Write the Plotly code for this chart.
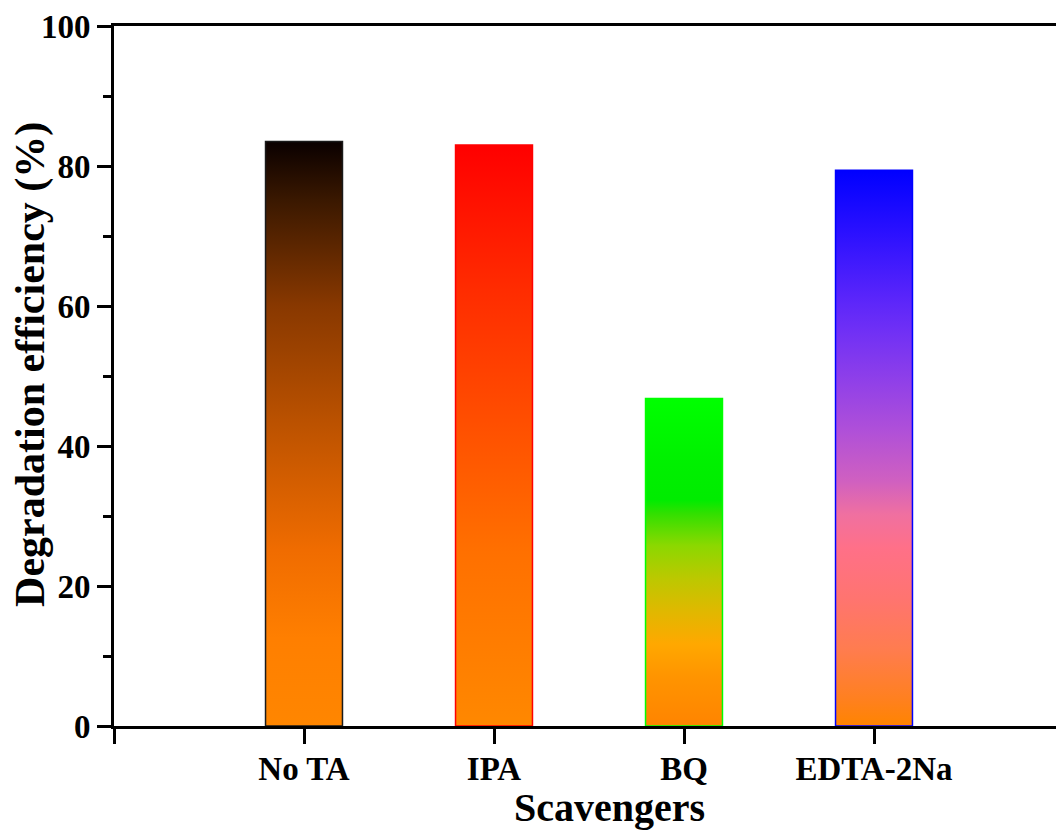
import plotly.graph_objects as go

# Scavenger trapping experiment: degradation efficiency per scavenger
scavengers = ["No TA", "IPA", "BQ", "EDTA-2Na"]
efficiency = [83.5, 83.0, 46.8, 79.4]
positions = [1, 2, 3, 4]

# vertical gradients, 0 = bar bottom, 1 = bar top
gradients = [
    [[0.0, "#ff8600"], [0.15, "#ff7f00"], [0.3, "#f06c00"], [0.5, "#c05400"],
     [0.72, "#883800"], [0.9, "#3a1800"], [1.0, "#0a0000"]],
    [[0.0, "#ff8800"], [0.3, "#ff7000"], [0.5, "#ff5200"], [0.75, "#ff2c00"],
     [1.0, "#ff0000"]],
    [[0.0, "#ff8400"], [0.15, "#ff9400"], [0.25, "#ffa800"], [0.35, "#e0b800"],
     [0.45, "#bcc800"], [0.55, "#8cd800"], [0.65, "#30e000"], [0.69, "#00ec00"],
     [0.8, "#00f000"], [1.0, "#00ff00"]],
    [[0.0, "#ff8400"], [0.05, "#ff8020"], [0.14, "#ff7c50"], [0.23, "#ff7470"],
     [0.32, "#ff7088"], [0.38, "#f070a0"], [0.44, "#d060c0"], [0.53, "#b050d8"],
     [0.62, "#9040e8"], [0.71, "#7030f5"], [0.77, "#5a25fa"], [0.89, "#2a10ff"],
     [1.0, "#0000ff"]],
]
edge_colors = ["#1a1a1a", "#ff0000", "#00ff00", "#0000ff"]
bar_width = 0.405

FONT = "Liberation Serif"

fig = go.Figure()
for pos, val, grad, edge in zip(positions, efficiency, gradients, edge_colors):
    half = bar_width / 2
    fig.add_trace(go.Scatter(
        x=[pos - half, pos - half, pos + half, pos + half, pos - half],
        y=[0, val, val, 0, 0],
        mode="lines",
        fill="toself",
        fillgradient=dict(type="vertical", colorscale=grad, start=0, stop=val),
        line=dict(color=edge, width=1.5),
        showlegend=False,
        hoverinfo="skip",
    ))

fig.update_layout(
    width=1056,
    height=830,
    margin=dict(l=114, r=0, t=26, b=104),
    paper_bgcolor="white",
    plot_bgcolor="white",
    font=dict(family=FONT, color="black", weight="bold"),
    xaxis=dict(
        range=[0, (1056 - 114) / 190],
        tickmode="array",
        tickvals=[0] + positions,
        ticktext=[""] + scavengers,
        ticks="outside",
        ticklen=15,
        tickwidth=3,
        tickcolor="black",
        ticklabelstandoff=-4,
        showline=True,
        linewidth=3,
        linecolor="black",
        mirror=True,
        showgrid=False,
        zeroline=False,
        tickfont=dict(family=FONT, size=33, weight="bold"),
    ),
    yaxis=dict(
        range=[0, 100],
        tickvals=[0, 20, 40, 60, 80, 100],
        ticks="outside",
        ticklen=14,
        tickwidth=3,
        tickcolor="black",
        minor=dict(ticks="outside", ticklen=8, tickwidth=3, tickcolor="black",
                   tickvals=[10, 30, 50, 70, 90]),
        showline=True,
        linewidth=3,
        linecolor="black",
        showgrid=False,
        zeroline=False,
        tickfont=dict(family=FONT, size=33, weight="bold"),
    ),
    annotations=[
        dict(text="Degradation efficiency (%)", xref="paper", yref="paper",
             x=-0.088, y=0.516, textangle=-90, showarrow=False,
             xanchor="center", yanchor="middle",
             font=dict(family=FONT, size=42, weight="bold")),
        dict(text="Scavengers", xref="paper", yref="paper",
             x=0.5255, y=-0.082, showarrow=False,
             xanchor="center", yanchor="top",
             font=dict(family=FONT, size=40, weight="bold")),
    ],
)

fig.write_html("out.html")
